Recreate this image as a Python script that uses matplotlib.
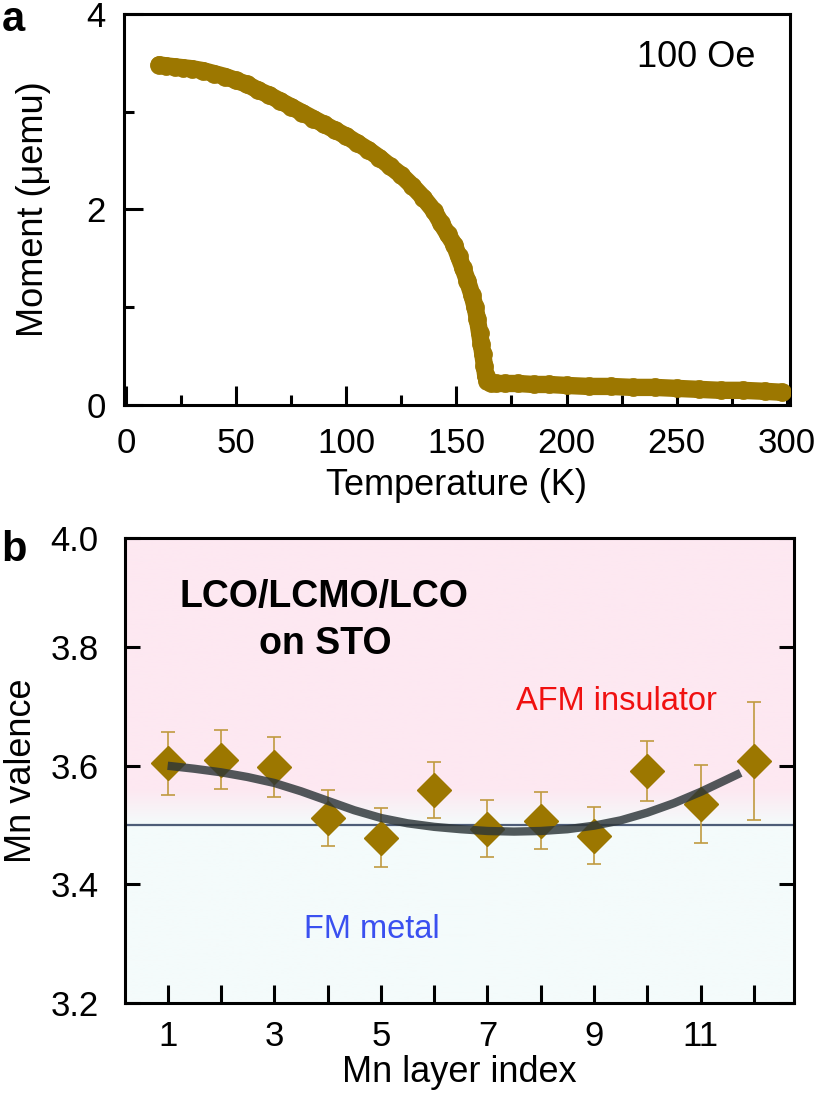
import numpy as np
import matplotlib.pyplot as plt

plt.rcParams['font.family'] = ['Liberation Sans', 'DejaVu Sans']

# panel a: moment vs temperature (100 Oe)
temp = [15, 18, 22, 26, 30, 35, 40, 45, 50, 55, 60, 65, 70, 75, 80, 85, 90, 95,
        100, 105, 110, 115, 120, 125, 130, 135, 140, 143, 146, 149, 151, 153,
        155, 157, 158.5, 159.5, 160.5, 161.3, 162, 162.7, 163.3, 164, 165.5,
        168, 172, 178, 185, 192, 200, 210, 220, 230, 240, 250, 260, 270, 280,
        290, 298]
moment = [3.48, 3.47, 3.46, 3.45, 3.44, 3.42, 3.39, 3.36, 3.32, 3.28, 3.22, 3.17,
          3.11, 3.05, 2.99, 2.93, 2.87, 2.81, 2.75, 2.68, 2.61, 2.53, 2.44, 2.35,
          2.24, 2.12, 1.98, 1.86, 1.75, 1.64, 1.52, 1.40, 1.27, 1.13, 1.00, 0.88,
          0.74, 0.62, 0.52, 0.40, 0.30, 0.25, 0.23, 0.22, 0.22, 0.22, 0.21, 0.21,
          0.20, 0.19, 0.19, 0.18, 0.18, 0.17, 0.16, 0.15, 0.15, 0.14, 0.13]

# panel b: Mn valence per layer
layer = [1, 2, 3, 4, 5, 6, 7, 8, 9, 10, 11, 12]
valence = [3.604, 3.610, 3.598, 3.512, 3.479, 3.559, 3.494, 3.507, 3.482, 3.591, 3.536, 3.608]
val_err = [0.053, 0.050, 0.051, 0.047, 0.050, 0.047, 0.048, 0.048, 0.048, 0.050, 0.066, 0.100]

# guide-to-the-eye curve
fit_x = [1, 1.5, 2, 2.5, 3, 3.5, 4, 4.5, 5, 5.5, 6, 6.5, 7, 7.5, 8, 8.5,
         9, 9.5, 10, 10.5, 11, 11.4, 11.75]
fit_y = [3.600, 3.595, 3.589, 3.581, 3.571, 3.557, 3.541, 3.525, 3.512, 3.503,
         3.497, 3.493, 3.490, 3.489, 3.490, 3.493, 3.499, 3.508, 3.521, 3.537,
         3.556, 3.573, 3.588]

gold = '#9c7700'
fs = 26
tfs = 25

fig = plt.figure(figsize=(8.15, 10.95), dpi=100)

# ---------- panel a ----------
ax1 = fig.add_axes([124 / 815, 1 - 405 / 1095, 666 / 815, 391 / 1095])
ax1.plot(temp, moment, '-o', color=gold, lw=12.5, ms=12.5, mec=gold,
         solid_capstyle='round', solid_joinstyle='round', zorder=3)
ax1.set_xlim(-1, 301.5)
ax1.set_ylim(0, 3.95)
ax1.set_xticks([0, 50, 100, 150, 200, 250, 300])
ax1.set_xticks([25, 75, 125, 175, 225, 275], minor=True)
ax1.set_yticks([0, 2, 4])
ax1.set_yticks([1, 3], minor=True)
ax1.tick_params(which='both', direction='in', width=2.2, labelsize=tfs,
                top=False, right=False)
ax1.tick_params(which='major', length=14)
ax1.tick_params(which='minor', length=7)
ax1.tick_params(axis='x', pad=16)
ax1.tick_params(axis='y', pad=13)
for s in ax1.spines.values():
    s.set_linewidth(2.2)
ax1.set_xlabel('Temperature (K)', fontsize=fs)
ax1.set_ylabel('Moment (μemu)', fontsize=fs)
ax1.xaxis.set_label_coords(0.50, -0.16)
ax1.yaxis.set_label_coords(-0.11, 0.5)
ax1.text(259, 3.56, '100 Oe', fontsize=fs, ha='center', va='center')

# ---------- panel b ----------
ax2 = fig.add_axes([125 / 815, 1 - 1003 / 1095, 669 / 815, 465 / 1095])
xlo, xhi = 0.2, 12.75
ylo, yhi = 3.2, 3.984

# background: pink (AFM insulator) above, pale cyan (FM metal) below
yy = np.linspace(ylo, yhi, 400)
pink = np.array([253, 232, 241]) / 255
cyan = np.array([244, 251, 251]) / 255
w = np.clip((yy - 3.50) / 0.06, 0, 1)[:, None]
bg = (cyan * (1 - w) + pink * w)[:, None, :]
ax2.imshow(bg, extent=[xlo, xhi, ylo, yhi], origin='lower', aspect='auto', zorder=0)

ax2.axhline(3.5, color='#4e5d78', lw=1.6, zorder=1)
ax2.errorbar(layer, valence, yerr=val_err, fmt='D', color=gold, ms=17, mec=gold,
             ecolor='#c09a40', elinewidth=1.2, capsize=5, capthick=1.2, zorder=3)
ax2.plot(fit_x, fit_y, color='#2c3538', lw=6, alpha=0.82, zorder=4,
         solid_capstyle='butt', solid_joinstyle='round')

ax2.set_xlim(xlo, xhi)
ax2.set_ylim(ylo, yhi)
ax2.set_xticks(layer)
ax2.set_xticklabels([str(i) if i % 2 else '' for i in layer])
ax2.set_yticks([3.2, 3.4, 3.6, 3.8, yhi])
ax2.set_yticklabels(['3.2', '3.4', '3.6', '3.8', '4.0'])
ax2.tick_params(direction='in', width=2.2, labelsize=tfs, top=False, right=True)
ax2.tick_params(axis='x', length=13, pad=12)
ax2.tick_params(axis='y', length=11, pad=19)
for s in ax2.spines.values():
    s.set_linewidth(2.2)
ax2.set_xlabel('Mn layer index', fontsize=fs)
ax2.set_ylabel('Mn valence', fontsize=fs)
ax2.xaxis.set_label_coords(0.50, -0.112)
ax2.yaxis.set_label_coords(-0.128, 0.5)

ax2.text(3.93, 3.885, 'LCO/LCMO/LCO', fontsize=27, weight='bold', ha='center', va='center')
ax2.text(3.95, 3.806, 'on STO', fontsize=27, weight='bold', ha='center', va='center')
ax2.text(9.41, 3.709, 'AFM insulator', fontsize=23.5, color='#f01010', ha='center', va='center')
ax2.text(4.83, 3.324, 'FM metal', fontsize=23.5, color='#3a50f0', ha='center', va='center')

# panel letters
fig.text(0.002, 1 - 31 / 1095, 'a', fontsize=30, weight='bold')
fig.text(0.002, 1 - 561 / 1095, 'b', fontsize=30, weight='bold')

fig.savefig('out.png', dpi=100)
